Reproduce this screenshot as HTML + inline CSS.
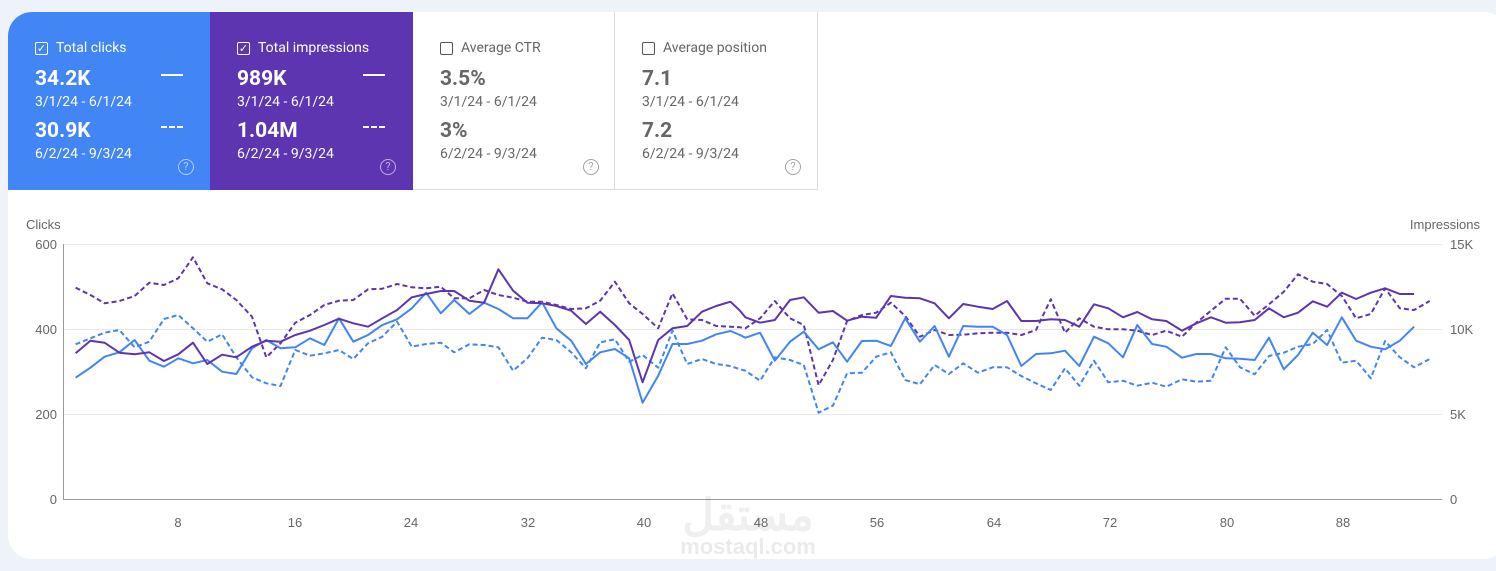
<!DOCTYPE html>
<html><head><meta charset="utf-8"><style>
body{margin:0;width:1496px;height:571px;background:#eef2f9;font-family:"Roboto","Liberation Sans",sans-serif;overflow:hidden;position:relative}
.card{position:absolute;left:8px;top:12px;width:1500px;height:547px;background:#fff;border-radius:24px}
.tile{position:absolute;top:12px;height:178px;width:202px;box-sizing:border-box;padding-left:27px}
.t1{left:8px;background:#4285f4;color:#fff;border-top-left-radius:24px}
.t2{left:210px;background:#5e35b1;color:#fff;width:203px}
.t3{left:413px;background:#fff;color:#666;border-right:1px solid #ddd;border-bottom:1px solid #ddd}
.t4{left:615px;width:203px;background:#fff;color:#666;border-right:1px solid #ddd;border-bottom:1px solid #ddd}
.lab{position:absolute;top:28px;font-size:14px;display:flex;align-items:center}
.cb{width:11px;height:11px;border:1.5px solid currentColor;border-radius:2px;margin-right:8px;font-size:11px;line-height:11px;text-align:center}
.v{position:absolute;font-size:21px;font-weight:bold}
.d{position:absolute;font-size:14px}
.ln{position:absolute;left:153px;width:22px;height:0;border-top:2px solid #fff}
.q{position:absolute;left:170px;top:147px;width:14px;height:14px;border:1.5px solid currentColor;border-radius:50%;font-size:11px;text-align:center;line-height:14px;opacity:.6}
</style></head><body>
<div class="card"></div>
<div class="tile t1"><div class="lab"><span class="cb">✓</span>Total clicks</div>
<div class="v" style="top:55px">34.2K</div><div class="d" style="top:82px">3/1/24 - 6/1/24</div>
<div class="v" style="top:107px">30.9K</div><div class="d" style="top:134px">6/2/24 - 9/3/24</div>
<div class="ln" style="top:62px"></div><div class="ln" style="top:114px;border-top-style:dashed"></div><div class="q">?</div></div>
<div class="tile t2"><div class="lab"><span class="cb">✓</span>Total impressions</div>
<div class="v" style="top:55px">989K</div><div class="d" style="top:82px">3/1/24 - 6/1/24</div>
<div class="v" style="top:107px">1.04M</div><div class="d" style="top:134px">6/2/24 - 9/3/24</div>
<div class="ln" style="top:62px"></div><div class="ln" style="top:114px;border-top-style:dashed"></div><div class="q">?</div></div>
<div class="tile t3"><div class="lab"><span class="cb" style="color:#555"></span>Average CTR</div>
<div class="v" style="top:55px">3.5%</div><div class="d" style="top:82px">3/1/24 - 6/1/24</div>
<div class="v" style="top:107px">3%</div><div class="d" style="top:134px">6/2/24 - 9/3/24</div><div class="q">?</div></div>
<div class="tile t4"><div class="lab"><span class="cb" style="color:#555"></span>Average position</div>
<div class="v" style="top:55px">7.1</div><div class="d" style="top:82px">3/1/24 - 6/1/24</div>
<div class="v" style="top:107px">7.2</div><div class="d" style="top:134px">6/2/24 - 9/3/24</div><div class="q">?</div></div>
<svg id="s" width="1496" height="571" style="position:absolute;left:0;top:0" font-family="Liberation Sans, sans-serif" font-size="13" fill="#666">
<g stroke="#e8e8e8" stroke-width="1"><line x1="63" x2="1442" y1="244.5" y2="244.5"/><line x1="63" x2="1442" y1="329.5" y2="329.5"/><line x1="63" x2="1442" y1="414.5" y2="414.5"/></g>
<line x1="63.5" x2="63.5" y1="244" y2="499" stroke="#999"/><line x1="63" x2="1442" y1="499.5" y2="499.5" stroke="#999"/>
<text x="26" y="229">Clicks</text><text x="1480" y="229" text-anchor="end">Impressions</text>
<g text-anchor="end"><text x="57" y="249">600</text><text x="57" y="334">400</text><text x="57" y="419">200</text><text x="57" y="504">0</text></g>
<text x="1450" y="249">15K</text><text x="1450" y="334">10K</text><text x="1450" y="419">5K</text><text x="1450" y="504">0</text>
<g text-anchor="middle"><text x="178" y="527">8</text><text x="295" y="527">16</text><text x="411" y="527">24</text><text x="528" y="527">32</text><text x="644" y="527">40</text><text x="761" y="527">48</text><text x="877" y="527">56</text><text x="994" y="527">64</text><text x="1110" y="527">72</text><text x="1227" y="527">80</text><text x="1343" y="527">88</text></g>
<text x="748" y="530" text-anchor="middle" font-size="44" font-weight="bold" fill="#000" opacity="0.06">مستقل</text>
<text x="748" y="554" text-anchor="middle" font-size="22" font-weight="bold" fill="#000" opacity="0.08">mostaql.com</text>
</svg>
<script>
function cv(a,b){var p=[];for(var i=0;i<a.length;i+=2){var X=60+a[i]/2.24;if(X<740)p.push([X,240+a[i+1]/3]);}for(var i=0;i<b.length;i+=2){p.push([740+b[i]/2.24,240+b[i+1]/3]);}return p.map(function(q){return q[0].toFixed(1)+','+q[1].toFixed(1)}).join(' ');}
var S=[
["#4285f4","5,3",[35,313,68,295,100,278,133,270,167,322,200,305,233,237,265,225,298,265,330,305,363,283,395,352,430,412,462,430,494,438,527,330,560,347,592,340,625,330,657,357,690,310,722,290,755,245,788,320,820,312,853,308,883,337,917,313,950,315,982,322,1015,392,1047,355,1080,293,1112,300,1145,337,1178,385,1210,307,1243,298,1275,365,1305,345,1340,383,1372,272,1405,372,1438,357,1470,372,1502,378,1535,393],[0,388,12,392,45,422,78,352,112,360,143,375,176,518,208,497,240,400,273,398,305,350,338,337,370,420,403,433,436,375,468,402,500,370,533,398,566,382,598,382,630,408,663,430,696,450,728,385,760,437,793,362,825,427,858,422,890,437,923,428,955,440,990,418,1022,425,1055,422,1088,322,1120,382,1153,403,1185,348,1218,338,1250,320,1283,312,1315,270,1348,368,1380,362,1413,415,1445,303,1478,352,1510,382,1545,357]],
["#5e35b1","5,3",[35,143,68,165,100,190,133,183,167,168,200,128,233,135,265,115,298,52,330,130,363,148,395,180,430,230,462,352,494,310,527,248,560,225,592,195,625,182,657,180,690,148,722,146,755,132,788,142,820,145,853,140,883,175,917,175,950,150,982,165,1015,173,1047,185,1080,185,1112,195,1145,207,1178,205,1210,182,1243,125,1275,190,1305,222,1340,265,1372,160,1405,238,1438,240,1470,258,1502,260,1535,263],[0,262,12,265,45,235,78,183,112,235,143,255,176,436,208,360,240,243,273,225,305,218,338,188,370,228,403,290,436,270,468,285,500,284,533,280,566,278,598,278,630,285,663,270,696,178,728,278,760,235,793,260,825,268,858,268,890,272,923,285,955,272,990,290,1022,248,1055,212,1088,176,1120,176,1153,227,1185,193,1218,155,1250,103,1283,125,1315,132,1348,168,1380,235,1413,222,1445,145,1478,205,1510,210,1545,183]],
["#4285f4","",[35,413,68,383,100,350,133,337,167,300,200,362,233,380,265,355,298,370,330,360,363,395,395,402,430,325,462,300,494,325,527,322,560,295,592,315,625,235,657,305,690,285,722,255,755,238,788,205,820,158,853,220,883,180,917,222,950,188,982,207,1015,235,1047,235,1080,187,1112,265,1145,302,1178,372,1210,337,1243,327,1275,355,1305,488,1340,407,1372,312,1405,312,1438,302,1470,283,1502,273,1535,293],[0,285,12,293,45,278,78,362,112,305,143,275,176,328,208,307,240,365,273,303,305,302,338,318,370,235,403,305,436,258,468,350,500,258,533,260,566,260,598,285,630,378,663,342,696,340,728,332,760,378,793,290,825,310,858,352,890,255,923,312,955,320,990,353,1022,342,1055,342,1088,355,1120,356,1153,360,1185,293,1218,388,1250,345,1283,278,1315,315,1348,232,1380,302,1413,320,1445,328,1478,302,1510,260]],
["#5e35b1","",[35,340,68,302,100,308,133,338,167,343,200,337,233,363,265,343,298,308,330,372,363,344,395,352,430,320,462,302,494,305,527,285,560,272,592,255,625,236,657,250,690,260,722,235,755,210,788,172,820,162,853,153,883,153,917,182,950,188,982,88,1015,152,1047,188,1080,190,1112,198,1145,212,1178,252,1210,215,1243,255,1275,300,1305,427,1340,300,1372,265,1405,258,1438,215,1470,198,1502,185,1535,230],[0,212,12,232,45,248,78,240,112,180,143,172,176,218,208,213,240,242,273,230,305,233,338,168,370,173,403,175,436,190,468,235,500,192,533,200,566,207,598,183,630,243,663,243,696,238,728,240,760,260,793,193,825,205,858,232,890,216,923,238,955,243,990,272,1022,250,1055,232,1088,248,1120,247,1153,240,1185,205,1218,232,1250,218,1283,184,1315,200,1348,158,1380,177,1413,158,1445,145,1478,162,1510,162]]];
var s=document.getElementById('s');
S.forEach(function(a){var e=document.createElementNS('http://www.w3.org/2000/svg','polyline');e.setAttribute('points',cv(a[2],a[3]));e.setAttribute('fill','none');e.setAttribute('stroke',a[0]);e.setAttribute('stroke-width','2');e.setAttribute('stroke-linejoin','round');if(a[1])e.setAttribute('stroke-dasharray',a[1]);s.appendChild(e);});
</script>
</body></html>
